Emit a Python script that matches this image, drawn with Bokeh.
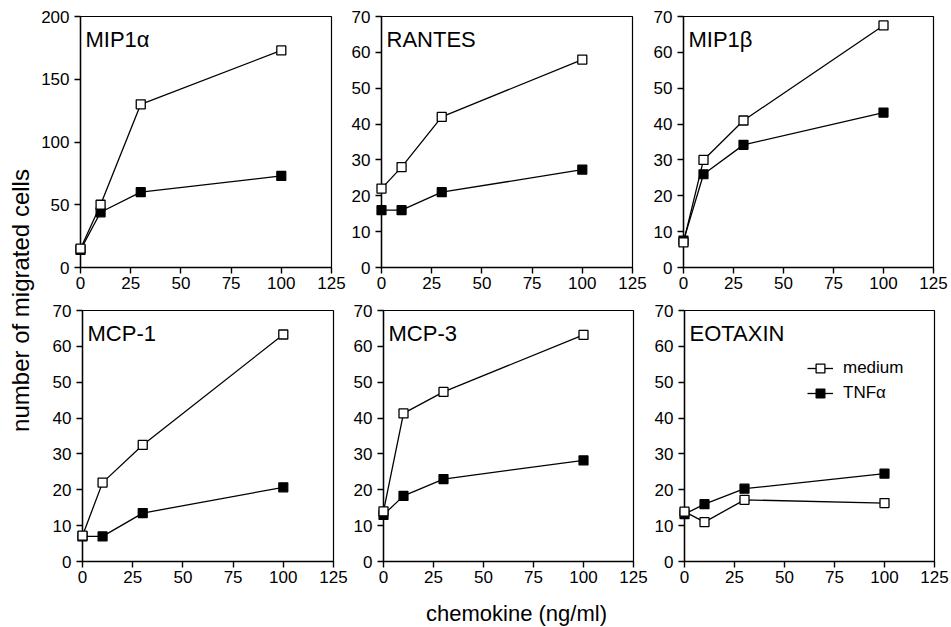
import math
from bokeh.plotting import figure
from bokeh.models import Range1d, FixedTicker, Label, Legend, LegendItem
from bokeh.layouts import row, column
from bokeh.core.properties import value
from bokeh.embed import file_html
from bokeh.resources import INLINE

# ---------------- data ----------------
dose = [0, 10, 30, 100]
panel_names = ["MIP1α", "RANTES", "MIP1β", "MCP-1", "MCP-3", "EOTAXIN"]

medium_mip1a = [15, 50, 130, 173]
tnf_mip1a = [14, 44, 60, 73]
medium_rantes = [22, 28, 42, 58]
tnf_rantes = [16, 16, 21, 27.3]
medium_mip1b = [7, 30, 41, 67.5]
tnf_mip1b = [7.5, 26, 34.2, 43.2]
medium_mcp1 = [7.2, 22, 32.5, 63.3]
tnf_mcp1 = [7, 7, 13.5, 20.7]
medium_mcp3 = [14, 41.3, 47.3, 63.2]
tnf_mcp3 = [13, 18.3, 23, 28.2]
medium_eotaxin = [13.9, 11, 17.2, 16.3]
tnf_eotaxin = [13.2, 16, 20.3, 24.5]

medium_series = [medium_mip1a, medium_rantes, medium_mip1b, medium_mcp1, medium_mcp3, medium_eotaxin]
tnf_series = [tnf_mip1a, tnf_rantes, tnf_mip1b, tnf_mcp1, tnf_mcp3, tnf_eotaxin]

x_ticks = [0, 25, 50, 75, 100, 125]
y_ticks_big = [0, 50, 100, 150, 200]
y_ticks_small = [0, 10, 20, 30, 40, 50, 60, 70]
panel_y_ticks = [y_ticks_big, y_ticks_small, y_ticks_small, y_ticks_small, y_ticks_small, y_ticks_small]
series_labels = ["medium", "TNFα"]
x_label = "chemokine (ng/ml)"
y_label = "number of migrated cells"

FONT = "Liberation Sans"

# (border_left, frame_w, border_right, border_top, frame_h, border_bottom)
geom = [
    (44, 251, 17, 16, 251, 30),
    (33, 251, 17, 16, 251, 30),
    (34, 250, 18, 16, 251, 30),
    (46, 251, 16, 13, 251, 30),
    (34, 250, 17, 13, 251, 30),
    (34, 250, 17, 13, 251, 30),
]


def make_panel(i):
    bl, fw, br, bt, fh, bb = geom[i]
    yt = panel_y_ticks[i]
    p = figure(width=bl + fw + br, height=bt + fh + bb,
               x_range=Range1d(x_ticks[0], x_ticks[-1]), y_range=Range1d(yt[0], yt[-1]),
               toolbar_location=None, output_backend="svg", title=None,
               min_border_left=bl, min_border_right=br, min_border_top=bt, min_border_bottom=bb)
    p.grid.visible = False
    p.outline_line_color = "black"
    p.outline_line_width = 1.2
    p.outline_line_alpha = 1.0
    p.background_fill_color = "white"
    p.border_fill_color = "white"
    p.xaxis.ticker = FixedTicker(ticks=x_ticks)
    p.yaxis.ticker = FixedTicker(ticks=yt)
    for ax in (p.xaxis[0], p.yaxis[0]):
        ax.major_tick_out = 6
        ax.major_tick_in = 0
        ax.minor_tick_out = 0
        ax.minor_tick_in = 0
        ax.axis_line_color = "black"
        ax.axis_line_width = 1.4
        ax.major_tick_line_color = "black"
        ax.major_tick_line_width = 1.4
        ax.major_label_text_font = FONT
        ax.major_label_text_font_size = "17px"
        ax.major_label_text_color = "black"
    p.xaxis.major_label_standoff = 3
    p.yaxis.major_label_standoff = 5

    med = medium_series[i]
    tnf = tnf_series[i]
    lt = p.line(dose, tnf, line_color="black", line_width=1.3, level="overlay")
    st = p.scatter(dose, tnf, marker="square", size=9, fill_color="black",
                   line_color="black", line_width=1.2, level="overlay")
    lm = p.line(dose, med, line_color="black", line_width=1.3, level="overlay")
    sm = p.scatter(dose, med, marker="square", size=9, fill_color="white",
                   line_color="black", line_width=1.3, level="overlay")

    p.add_layout(Label(x=5, y=fh - 23, x_units="screen", y_units="screen",
                       text=panel_names[i], text_font=FONT, text_font_size="22px",
                       text_color="black", text_align="left", text_baseline="alphabetic"))

    if i == 5:
        leg = Legend(items=[LegendItem(label=value(series_labels[0]), renderers=[lm, sm]),
                            LegendItem(label=value(series_labels[1]), renderers=[lt, st])],
                     location=(123, 157), orientation="vertical",
                     glyph_width=26, glyph_height=22, label_height=22, label_standoff=10,
                     spacing=3, padding=0, margin=0, border_line_color=None,
                     background_fill_alpha=0, label_text_font=FONT,
                     label_text_font_size="17px", label_text_color="black")
        p.add_layout(leg)
    return p


panels = [make_panel(i) for i in range(6)]

ylab = figure(width=36, height=591, toolbar_location=None, output_backend="svg", title=None,
              x_range=Range1d(0, 1), y_range=Range1d(0, 1), x_axis_type=None, y_axis_type=None,
              min_border=0)
ylab.grid.visible = False
ylab.outline_line_color = None
ylab.add_layout(Label(x=20, y=291, x_units="screen", y_units="screen", text=y_label,
                      angle=math.pi / 2, text_font=FONT, text_font_size="24px",
                      text_color="black", text_align="center", text_baseline="middle"))

xlab = figure(width=951, height=36, toolbar_location=None, output_backend="svg", title=None,
              x_range=Range1d(0, 1), y_range=Range1d(0, 1), x_axis_type=None, y_axis_type=None,
              min_border=0)
xlab.grid.visible = False
xlab.outline_line_color = None
xlab.add_layout(Label(x=516, y=14, x_units="screen", y_units="screen", text=x_label,
                      text_font=FONT, text_font_size="22px", text_color="black",
                      text_align="center", text_baseline="alphabetic"))

grid = column(row(panels[0], panels[1], panels[2]), row(panels[3], panels[4], panels[5]))
layout = column(row(ylab, grid), xlab)

open("out.html", "w").write(file_html(layout, INLINE))
